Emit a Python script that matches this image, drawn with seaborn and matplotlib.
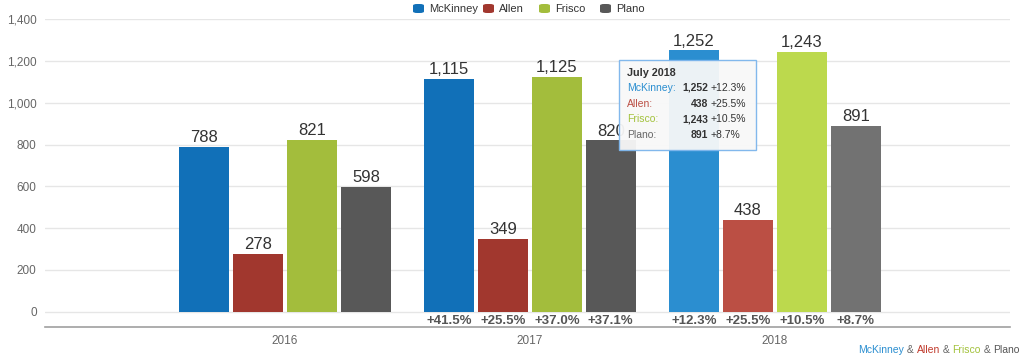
import matplotlib
matplotlib.use("Agg")
import matplotlib.pyplot as plt
import seaborn as sns
import pandas as pd
from matplotlib.patches import FancyBboxPatch, Rectangle

years = ["2016", "2017", "2018"]
cities = ["McKinney", "Allen", "Frisco", "Plano"]
mckinney = [788, 1115, 1252]
allen = [278, 349, 438]
frisco = [821, 1125, 1243]
plano = [598, 820, 891]
pct_mckinney = ["", "+41.5%", "+12.3%"]
pct_allen = ["", "+25.5%", "+25.5%"]
pct_frisco = ["", "+37.0%", "+10.5%"]
pct_plano = ["", "+37.1%", "+8.7%"]
yticks = [0, 200, 400, 600, 800, 1000, 1200, 1400]

colors = ["#1170b8", "#a1372e", "#a3bd3c", "#585858"]
hover_colors = ["#2b8ed0", "#bb4f44", "#bcd94d", "#727272"]

values = [mckinney, allen, frisco, plano]
pcts = [pct_mckinney, pct_allen, pct_frisco, pct_plano]
rows = []
for c, vals in zip(cities, values):
    for y, v in zip(years, vals):
        rows.append({"year": y, "city": c, "value": v})
df = pd.DataFrame(rows)

sns.set_theme(style="white")
plt.rcParams["font.family"] = ["Liberation Sans", "DejaVu Sans"]

fig = plt.figure(figsize=(10.24, 3.61), dpi=100)
ax = fig.add_axes([45 / 1024, 1 - 327 / 361, (1010 - 45) / 1024, (327 - 19.3) / 361])

sns.barplot(data=df, x="year", y="value", hue="city", order=years, hue_order=cities,
            palette=colors, width=0.88, gap=0.07, saturation=1, ax=ax,
            legend=False, errorbar=None)

ax.set_ylim(-74, 1400)
ax.set_xlim(-0.98, 2.96)
ax.set_yticks(yticks)
ax.set_yticklabels([f"{t:,}" for t in yticks], color="#666666", fontsize=8.5)
ax.tick_params(axis="y", length=0, pad=6)
ax.tick_params(axis="x", length=0, pad=6, labelsize=8.5, labelcolor="#666666")
ax.set_xlabel("")
ax.set_ylabel("")
for s in ["top", "right", "left"]:
    ax.spines[s].set_visible(False)
ax.spines["bottom"].set_color("#a0a0a0")
ax.spines["bottom"].set_linewidth(1.2)
ax.set_axisbelow(True)
for t in yticks:
    ax.axhline(t, color="#e6e6e6", lw=1, zorder=0)

for ci, cont in enumerate(ax.containers):
    for yi, bar in enumerate(cont):
        if yi == 2:
            bar.set_facecolor(hover_colors[ci])
        bar.set_edgecolor("none")
        cx = bar.get_x() + bar.get_width() / 2
        h = bar.get_height()
        ax.text(cx, h + 8, f"{int(h):,}", ha="center", va="bottom",
                fontsize=12, color="#333333")
        if pcts[ci][yi]:
            ax.text(cx, -43, pcts[ci][yi], ha="center", va="center",
                    fontsize=9.5, fontweight="bold", color="#555555")

# Legend at top
leg_items = [(413, "McKinney"), (483, "Allen"), (539, "Frisco"), (600, "Plano")]
for (x, lab), col in zip(leg_items, colors):
    fig.patches.append(FancyBboxPatch(((x) / 1024, 1 - 13 / 361), 11 / 1024, 9 / 361,
                                      boxstyle="round,pad=0,rounding_size=0.004",
                                      transform=fig.transFigure, facecolor=col,
                                      edgecolor="none"))
    fig.text((x + 16) / 1024, 1 - 8.5 / 361, lab, fontsize=8, color="#333333",
             ha="left", va="center")

# Tooltip
bx0, by0, bx1, by1 = 619, 60, 756, 150
fig.patches.append(Rectangle((bx0 / 1024, 1 - by1 / 361), (bx1 - bx0) / 1024,
                             (by1 - by0) / 361, transform=fig.transFigure,
                             facecolor="#f8f8f8", edgecolor="#7cb5ec", lw=1,
                             alpha=0.95, zorder=5))
fig.text(627 / 1024, 1 - 73 / 361, "July 2018", fontsize=7.8, fontweight="bold",
         color="#333333", va="center", zorder=6)
tip_rows = [("McKinney:", "#2b8ed0", "1,252", "+12.3%"),
            ("Allen:", "#bb4f44", "438", "+25.5%"),
            ("Frisco:", "#a3c23c", "1,243", "+10.5%"),
            ("Plano:", "#666666", "891", "+8.7%")]
for i, (lab, col, val, pc) in enumerate(tip_rows):
    yy = 1 - (88 + i * 15.6) / 361
    fig.text(627 / 1024, yy, lab, fontsize=7.5, color=col, va="center", zorder=6)
    fig.text(708 / 1024, yy, val, fontsize=7.5, fontweight="bold", color="#333333",
             va="center", ha="right", zorder=6)
    fig.text(711 / 1024, yy, pc, fontsize=7.5, color="#333333", va="center", zorder=6)

# Bottom-right credits
parts = [("McKinney", "#2b8ed0"), (" & ", "#666666"), ("Allen", "#c0392b"),
         (" & ", "#666666"), ("Frisco", "#a3c23c"), (" & ", "#666666"),
         ("Plano", "#555555")]
x = 858 / 1024
renderer = fig.canvas.get_renderer()
for txt, col in parts:
    t = fig.text(x, 1 - 350 / 361, txt, fontsize=7.5, color=col, va="center", ha="left")
    bb = t.get_window_extent(renderer=renderer)
    x += bb.width / fig.bbox.width

fig.savefig("out.png", dpi=100)
